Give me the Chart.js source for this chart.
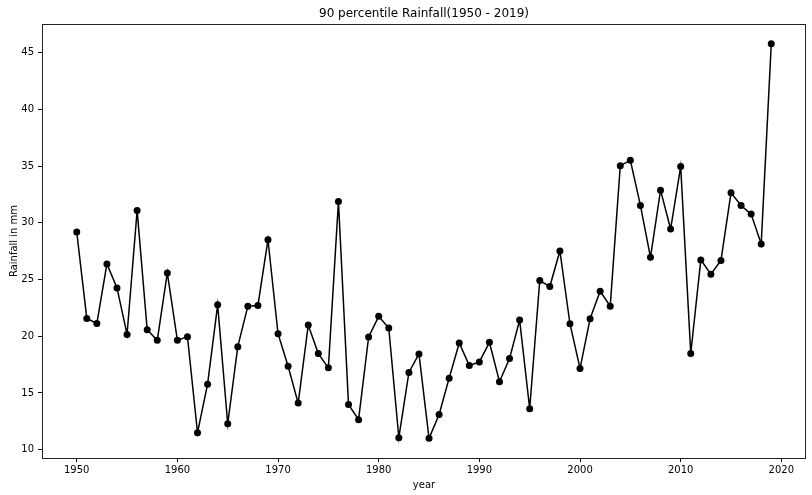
<!DOCTYPE html>
<html>
<head>
<meta charset="utf-8">
<script src="https://cdn.jsdelivr.net/npm/chart.js@4/dist/chart.umd.min.js"></script>
<style>
  html, body { margin: 0; padding: 0; background: #fff; }
  #wrap { width: 812px; height: 495px; }
</style>
</head>
<body>
<div id="wrap"><canvas id="c" width="812" height="495"></canvas></div>
<script>
// 90th percentile annual rainfall, 1950-2019
const years = [
  1950, 1951, 1952, 1953, 1954, 1955, 1956, 1957, 1958, 1959,
  1960, 1961, 1962, 1963, 1964, 1965, 1966, 1967, 1968, 1969,
  1970, 1971, 1972, 1973, 1974, 1975, 1976, 1977, 1978, 1979,
  1980, 1981, 1982, 1983, 1984, 1985, 1986, 1987, 1988, 1989,
  1990, 1991, 1992, 1993, 1994, 1995, 1996, 1997, 1998, 1999,
  2000, 2001, 2002, 2003, 2004, 2005, 2006, 2007, 2008, 2009,
  2010, 2011, 2012, 2013, 2014, 2015, 2016, 2017, 2018, 2019
];
const rainfall = [
  29.19, 21.57, 21.13, 26.37, 24.26, 20.16, 31.09, 20.57, 19.64, 25.58,
  19.64, 19.96, 11.49, 15.77, 22.77, 12.28, 19.08, 22.65, 22.71, 28.51,
  20.22, 17.35, 14.10, 20.98, 18.47, 17.21, 31.88, 13.98, 12.64, 19.93,
  21.75, 20.72, 11.05, 16.80, 18.44, 11.00, 13.10, 16.30, 19.40, 17.41,
  17.73, 19.46, 15.98, 18.03, 21.42, 13.60, 24.91, 24.38, 27.52, 21.10,
  17.15, 21.54, 23.97, 22.65, 35.04, 35.51, 31.53, 26.96, 32.88, 29.45,
  34.96, 18.47, 26.73, 25.47, 26.67, 32.64, 31.53, 30.77, 28.13, 45.79
];
const xTicks = [1950, 1960, 1970, 1980, 1990, 2000, 2010, 2020];
const yTicks = [10, 15, 20, 25, 30, 35, 40, 45];
const chartTitle = '90 percentile Rainfall(1950 - 2019)';
const xLabel = 'year';
const yLabel = 'Rainfall in mm';

const FONT = "'DejaVu Sans', sans-serif";

// axis limits padded by 5% of the data span on each side
const xSpan = years[years.length - 1] - years[0];
const xMin = years[0] - 0.05 * xSpan;
const xMax = years[years.length - 1] + 0.05 * xSpan;
const yLo = Math.min(...rainfall), yHi = Math.max(...rainfall);
const ySpan = yHi - yLo;
const yMin = yLo - 0.05 * ySpan;
const yMax = yHi + 0.05 * ySpan;

const points = years.map((y, i) => ({ x: y, y: rainfall[i] }));

// frame around the plot area plus the title above it
const framePlugin = {
  id: 'frame',
  afterDraw(chart) {
    const { ctx, chartArea: a } = chart;
    ctx.save();
    ctx.strokeStyle = '#222';
    ctx.lineWidth = 1;
    ctx.strokeRect(Math.round(a.left) + 0.5, Math.round(a.top) + 0.5,
                   Math.round(a.right - a.left) - 1, Math.round(a.bottom - a.top));
    ctx.fillStyle = '#000';
    ctx.font = '12px ' + FONT;
    ctx.textAlign = 'center';
    ctx.textBaseline = 'middle';
    ctx.fillText(chartTitle, (a.left + a.right) / 2, 14);
    ctx.restore();
  }
};

new Chart(document.getElementById('c'), {
  type: 'line',
  data: {
    datasets: [{
      data: points,
      borderColor: '#000',
      backgroundColor: '#000',
      borderWidth: 1.5,
      pointRadius: 3.5,
      pointBackgroundColor: '#000',
      pointBorderColor: '#000',
      pointBorderWidth: 0,
      tension: 0,
      fill: false
    }]
  },
  options: {
    responsive: false,
    animation: false,
    devicePixelRatio: 1,
    layout: { padding: { top: 24, right: 6, left: 0, bottom: 0 } },
    plugins: { legend: { display: false }, tooltip: { enabled: false } },
    scales: {
      x: {
        type: 'linear',
        min: xMin,
        max: xMax,
        afterBuildTicks(scale) { scale.ticks = xTicks.map(v => ({ value: v })); },
        afterFit(scale) { scale.height = 37; },
        ticks: {
          color: '#000',
          font: { family: FONT, size: 10 },
          padding: 2,
          maxRotation: 0,
          callback: v => String(v)
        },
        grid: { drawOnChartArea: false, drawTicks: true, tickLength: 4, tickColor: '#000', tickWidth: 1 },
        border: { display: false },
        title: {
          display: true,
          text: xLabel,
          color: '#000',
          font: { family: FONT, size: 10 },
          padding: { top: 0, bottom: 4 }
        }
      },
      y: {
        type: 'linear',
        min: yMin,
        max: yMax,
        afterBuildTicks(scale) { scale.ticks = yTicks.map(v => ({ value: v })); },
        afterFit(scale) { scale.width = 42; },
        ticks: {
          color: '#000',
          font: { family: FONT, size: 10 },
          padding: 4,
          callback: v => String(v)
        },
        grid: { drawOnChartArea: false, drawTicks: true, tickLength: 4, tickColor: '#000', tickWidth: 1 },
        border: { display: false },
        title: {
          display: true,
          text: yLabel,
          color: '#000',
          font: { family: FONT, size: 10 },
          padding: { top: 8, bottom: 0 }
        }
      }
    }
  },
  plugins: [framePlugin]
});
</script>
</body>
</html>
